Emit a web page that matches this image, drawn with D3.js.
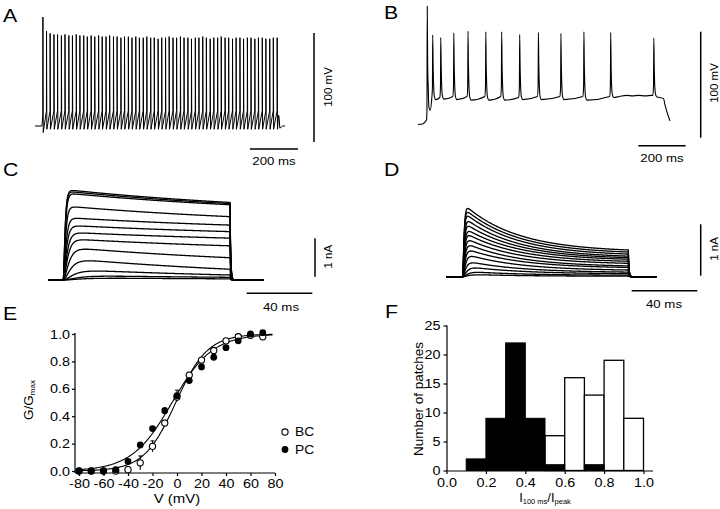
<!DOCTYPE html>
<html><head><meta charset="utf-8">
<script src="https://cdn.jsdelivr.net/npm/d3@7"></script>
<style>
body{margin:0;background:#fff}
svg{display:block}
text,tspan{font-family:"Liberation Sans",Arial,Helvetica,sans-serif;fill:#000}
</style>
</head><body>
<svg id="c" width="720" height="509"></svg>
<script>
// ---------------- DATA ----------------
// Panel A: fast-spiking cell, spike times (ms from trace start) and peak voltages (mV)
const aRest = -70;
const aThreshold = -56;
const aTroughs = [-76, -73];
const aSpikeTimes = [33,48,63,79,94,110,125,141,156,172,187,203,218,234,249,265,280,296,311,327,342,358,373,389,404,420,435,451,466,482,497,513,528,544,559,575,590,606,621,637,652,668,683,699,714,730,745,761,776,792,807,823,838,854,869,885,900,916,931,947,962,978,993,1009];
const aSpikePeaks = [30,17,15,14,14,13,14,13,13,14,13,13,12,13,12,13,12,12,13,12,12,11,12,12,11,12,11,11,12,11,11,10,11,11,12,11,11,12,11,11,10,11,11,12,11,10,11,11,12,11,11,10,11,11,10,11,11,10,11,11,10,10,11,11];

// Panel B: regular-spiking cell
const bSpikeTimes = [39,62,96,151,211,286,353,429,508,603,700,813,995];
const bSpikePeaks = [41,14,11.5,16,17.5,17,17,14.5,16.5,15.5,17,16.5,11];
const bPreSpike  = [-66,-46,-45,-44,-44,-44,-44,-45,-44,-44,-44,-44,-43];
const bTroughs   = [-57,-47,-46.5,-47,-47.5,-47.5,-47.5,-47,-47,-47,-47.5,-45,-44.5];

// Panel C: sustained K+ currents (nA) — peak and value at 100 ms, rise time constant (ms)
const cPeaks = [2.36,2.32,2.27,1.93,1.63,1.43,1.25,1.08,0.86,0.57,0.28,0.12,0.06];
const cEnds  = [2.02,1.99,1.96,1.65,1.43,1.26,1.09,0.89,0.58,0.28,0.13,0.07,0.03];
const cRiseTau = [0.8,0.8,0.9,1.0,1.2,1.4,1.7,2.0,2.6,3.5,5,7,9];

// Panel D: inactivating K+ currents (nA)
const dPeaks = [1.43,1.35,1.27,1.17,1.07,0.97,0.88,0.78,0.68,0.57,0.46,0.32,0.21,0.11,0.05];
const dEnds  = [0.52,0.48,0.44,0.40,0.37,0.34,0.30,0.26,0.21,0.18,0.13,0.09,0.06,0.03,0.01];
const dRiseTau = [0.6,0.6,0.6,0.7,0.7,0.8,0.8,0.9,1.0,1.1,1.3,1.5,2,2.5,3];

// Panel E: activation curves
const eVolt = [-80,-70,-60,-50,-40,-30,-20,-10,0,10,20,30,40,50,60,70];
const eBC    = [0.0,0.0,0.0,0.0,0.01,0.06,0.18,0.35,0.54,0.70,0.81,0.88,0.95,0.98,0.99,0.98];
const eBCerr = [0,0,0,0,0.01,0.05,0.04,0.02,0.02,0.02,0.01,0.01,0.01,0.01,0.01,0.01];
const ePC    = [0.0,0.0,0.0,0.01,0.07,0.19,0.31,0.44,0.55,0.66,0.76,0.83,0.90,0.95,1.0,1.01];
const ePCerr = [0,0,0,0,0.01,0.01,0.01,0.02,0.04,0.02,0.02,0.02,0.01,0.01,0.01,0.01];
const eFitBC = [-1, 13];   // V1/2, slope (mV)
const eFitPC = [-4, 16.5];
const eXTicks = [-80,-60,-40,-20,0,20,40,60,80];
const eYTicks = [0,0.2,0.4,0.6,0.8,1.0];

// Panel F: histogram of I100ms/Ipeak
const fBinStarts = [0.0,0.1,0.2,0.3,0.4,0.5,0.6,0.7,0.8,0.9];
const fPC = [0,2,9,22,9,1,0,1,0,0];
const fBC = [0,0,0,0,0,6,16,13,19,9];
const fXTicks = [0,0.2,0.4,0.6,0.8,1.0];
const fYTicks = [0,5,10,15,20,25];

// ---------------- DRAW ----------------
const svg = d3.select('#c');
svg.append('rect').attr('width',720).attr('height',509).attr('fill','#fff');
const ink = '#000';
const stretchList = [];
function label(x,y,str,size,anchor,rot){
  const t = svg.append('text').attr('font-size',size).attr('text-anchor',anchor||'start').text(str);
  if(rot){ t.attr('transform',`translate(${x},${y}) rotate(${rot})`); }
  else { t.attr('x',x).attr('y',y); stretchList.push(t); }
  return t;
}
function bar(x1,y1,x2,y2,w){
  svg.append('line').attr('x1',x1).attr('y1',y1).attr('x2',x2).attr('y2',y2)
    .attr('stroke',ink).attr('stroke-width',w||1.5);
}

// panel letters
label(3,21.7,'A',18.5); label(384,18.5,'B',18.5);
label(3,176,'C',18.5); label(384,176,'D',18.5);
label(3,320,'E',18.5); label(385,318,'F',18.5);

// ---- Panel A ----
const xA = d3.scaleLinear().domain([0,1000]).range([35,275]);
const yA = d3.scaleLinear().domain([-70,30]).range([126,17]);
const aPts = [[0,aRest],[28,aRest],[30,-68],[32.4,-60]];
aSpikeTimes.forEach((t,i)=>{
  if(i>0) aPts.push([t-0.3,aThreshold]);
  aPts.push([t,aSpikePeaks[i]]);
  aPts.push([t+1.3,aTroughs[i===0?0:1]]);
});
aPts.push([1015,-60],[1017,-62],[1020,-72],[1026,-71],[1032,-70],[1042,-70]);
svg.append('path').datum(aPts)
  .attr('d',d3.line().x(d=>xA(d[0])).y(d=>yA(d[1])))
  .attr('fill','none').attr('stroke',ink).attr('stroke-width',1);
bar(314,33,314,142); bar(250,149,298,149);
label(331.5,87,'100 mV',11.5,'middle',-90);
label(274,165,'200 ms',11.5,'middle');

// ---- Panel B ----
const xB = d3.scaleLinear().domain([0,1000]).range([418,655]);
const yB = d3.scaleLinear().domain([-70,30]).range([124,18]);
const bPts = [[0,-70.5],[20,-70],[30,-68],[36,-66]];
bSpikeTimes.forEach((t,i)=>{
  if(i>0) bPts.push([t-4,bPreSpike[i]]);
  bPts.push([t-1.2,bPreSpike[i]+10]);
  bPts.push([t,bSpikePeaks[i]]);
  bPts.push([t+1.8,-15]);
  bPts.push([t+4,-34]);
  bPts.push([t+7,bTroughs[i]+3]);
  bPts.push([t+13,bTroughs[i]]);
  if(i===11){ bPts.push([850,-44],[880,-43],[905,-43.5],[930,-43],[960,-43.5],[985,-43]); }
});
bPts.push([1020,-45],[1036,-46],[1042,-52],[1063,-67]);
svg.append('path').datum(bPts)
  .attr('d',d3.line().curve(d3.curveMonotoneX).x(d=>xB(d[0])).y(d=>yB(d[1])))
  .attr('fill','none').attr('stroke',ink).attr('stroke-width',1.1);
bar(700.7,31.7,700.7,137.7); bar(638.3,145.7,685.7,145.7);
label(718,83,'100 mV',11.5,'middle',-90);
label(662,162.3,'200 ms',11.5,'middle');

// ---- current traces helper ----
function currentTrace(peak,end,tauRise,tauInact,tStart,tEnd){
  const pts=[];
  const norm = 1-Math.exp(-100/tauInact);
  for(let t=tStart;t<=tEnd;t+=0.25){
    let v=0;
    if(t>=0 && t<=100){
      const act = Math.pow(1-Math.exp(-t/tauRise),2);
      const inact = end + (peak-end)*(Math.exp(-t/tauInact)-Math.exp(-100/tauInact))/norm;
      v = act*inact;
    } else if(t>100){
      v = end*Math.exp(-(t-100)/0.4);
    }
    pts.push([t,v]);
  }
  return pts;
}

// ---- Panel C ----
const xC = d3.scaleLinear().domain([0,100]).range([63.3,230]);
const yC = d3.scaleLinear().domain([0,1]).range([280,241.6]);
cPeaks.forEach((p,i)=>{
  svg.append('path').datum(currentTrace(p,cEnds[i],cRiseTau[i],150,-9,120))
    .attr('d',d3.line().x(d=>xC(d[0])).y(d=>yC(d[1])))
    .attr('fill','none').attr('stroke',ink).attr('stroke-width',1.3);
});
bar(315,238.3,315,276.7); bar(246.7,293.3,312.3,293.3);
label(331.5,256.7,'1 nA',11.5,'middle',-90);
label(281,310.5,'40 ms',11.5,'middle');

// ---- Panel D ----
const xD = d3.scaleLinear().domain([0,100]).range([462.7,628.3]);
const yD = d3.scaleLinear().domain([0,1]).range([276.7,225.3]);
dPeaks.forEach((p,i)=>{
  svg.append('path').datum(currentTrace(p,dEnds[i],dRiseTau[i],32,-10,117))
    .attr('d',d3.line().x(d=>xD(d[0])).y(d=>yD(d[1])))
    .attr('fill','none').attr('stroke',ink).attr('stroke-width',1.3);
});
bar(700.7,224.3,700.7,275.7); bar(631.7,290.7,697.3,290.7);
label(718,249,'1 nA',11.5,'middle',-90);
label(664,308.3,'40 ms',11.5,'middle');

// ---- Panel E ----
const xE = d3.scaleLinear().domain([-80,80]).range([79,275]);
const yE = d3.scaleLinear().domain([0,1]).range([471,334]);
const gE = svg.append('g');
const axEY = gE.append('g').attr('transform','translate(75,0)')
  .call(d3.axisLeft(yE).tickValues(eYTicks).tickFormat(d=>d.toFixed(1)).tickSize(3).tickPadding(2).tickSizeOuter(0));
const axEX = gE.append('g').attr('transform','translate(0,473)')
  .call(d3.axisBottom(xE).tickValues(eXTicks).tickFormat(d=>String(d)).tickSize(3).tickPadding(3.5).tickSizeOuter(0));
axEY.select('.domain').attr('d','M0,333V473');
axEX.select('.domain').attr('d','M75,0H275');
[axEX,axEY].forEach(a=>{ a.selectAll('text').attr('font-size',12.5);
  a.selectAll('line,path').attr('stroke',ink).attr('stroke-width',1.2);
  a.attr('font-family',null);
  a.selectAll('text').each(function(){stretchList.push(d3.select(this));}); });
function boltz(p){ const pts=[]; for(let v=-80; v<=78; v+=1) pts.push([v,1/(1+Math.exp((p[0]-v)/p[1]))]); return pts; }
[eFitBC,eFitPC].forEach(p=>{
  gE.append('path').datum(boltz(p)).attr('d',d3.line().x(d=>xE(d[0])).y(d=>yE(d[1])))
    .attr('fill','none').attr('stroke',ink).attr('stroke-width',1.1);
});
function errBars(vals,errs){
  vals.forEach((v,i)=>{ if(errs[i]>0.015){
    gE.append('line').attr('x1',xE(eVolt[i])).attr('x2',xE(eVolt[i]))
      .attr('y1',yE(v-errs[i])).attr('y2',yE(v+errs[i])).attr('stroke',ink).attr('stroke-width',1.1);
    gE.append('line').attr('x1',xE(eVolt[i])-2).attr('x2',xE(eVolt[i])+2)
      .attr('y1',yE(v+errs[i])).attr('y2',yE(v+errs[i])).attr('stroke',ink).attr('stroke-width',1);
  }});
}
errBars(eBC,eBCerr); errBars(ePC,ePCerr);
gE.selectAll('.bc').data(eBC).join('circle').attr('cx',(d,i)=>xE(eVolt[i])).attr('cy',d=>yE(d))
  .attr('r',3.1).attr('fill','#fff').attr('stroke',ink).attr('stroke-width',1.1);
gE.selectAll('.pc').data(ePC).join('circle').attr('cx',(d,i)=>xE(eVolt[i])).attr('cy',d=>yE(d))
  .attr('r',3.4).attr('fill',ink);
// legend
gE.append('circle').attr('cx',285).attr('cy',432).attr('r',3.1).attr('fill','#fff').attr('stroke',ink).attr('stroke-width',1.1);
gE.append('circle').attr('cx',285).attr('cy',449.5).attr('r',3.4).attr('fill',ink);
label(295,436.3,'BC',12); label(295,454,'PC',12);
// axis titles
label(177,503,'V (mV)',13,'middle');
const gy = svg.append('text').attr('transform','translate(33,400) rotate(-90)').attr('text-anchor','middle').attr('font-size',13.5);
gy.append('tspan').attr('fill','#000').text('G/G');
gy.append('tspan').attr('fill','#000').attr('font-size',8).attr('dy',2).text('max');

// ---- Panel F ----
const xF = d3.scaleLinear().domain([0,1]).range([446.5,643.5]);
const yF = d3.scaleLinear().domain([0,25]).range([470.5,325.5]);
const gF = svg.append('g');
gF.selectAll('.bcbar').data(fBC).join('rect')
  .attr('x',(d,i)=>xF(fBinStarts[i])).attr('width',(d,i)=>xF(fBinStarts[i]+0.1)-xF(fBinStarts[i]))
  .attr('y',d=>yF(d)).attr('height',d=>yF(0)-yF(d))
  .attr('fill','#fff').attr('stroke',ink).attr('stroke-width',1.3)
  .style('display',d=>d>0?null:'none');
gF.selectAll('.pcbar').data(fPC).join('rect')
  .attr('x',(d,i)=>xF(fBinStarts[i])).attr('width',(d,i)=>xF(fBinStarts[i]+0.1)-xF(fBinStarts[i]))
  .attr('y',d=>yF(d)).attr('height',d=>yF(0)-yF(d))
  .attr('fill',ink).attr('stroke',ink).attr('stroke-width',1)
  .style('display',d=>d>0?null:'none');
const axFY = gF.append('g').attr('transform','translate(447,0)')
  .call(d3.axisLeft(yF).tickValues(fYTicks).tickFormat(d=>String(d)).tickSize(3.5).tickPadding(3).tickSizeOuter(0));
const axFX = gF.append('g').attr('transform','translate(0,471)')
  .call(d3.axisBottom(xF).tickValues(fXTicks).tickFormat(d=>d.toFixed(1)).tickSize(3).tickPadding(4.5).tickSizeOuter(0));
axFY.select('.domain').attr('d','M0,325.5V471');
axFX.select('.domain').attr('d','M447,0H653');
[axFX,axFY].forEach(a=>{ a.selectAll('text').attr('font-size',12.5);
  a.attr('font-family',null);
  a.selectAll('line,path').attr('stroke',ink).attr('stroke-width',1.2);
  a.selectAll('text').each(function(){stretchList.push(d3.select(this));}); });
svg.append('text').attr('transform','translate(423,399) rotate(-90)').attr('text-anchor','middle')
  .attr('font-size',13.5).text('Number of patches');
const fx = svg.append('text').attr('x',545).attr('y',502).attr('text-anchor','middle').attr('font-size',13);
fx.append('tspan').attr('fill','#000').text('I');
fx.append('tspan').attr('fill','#000').attr('font-size',7.5).attr('dy',2).text('100 ms');
fx.append('tspan').attr('fill','#000').attr('dy',-2).text('/I');
fx.append('tspan').attr('fill','#000').attr('font-size',7.5).attr('dy',2).text('peak');

// horizontal stretch of labels to mimic the reference's wide type
stretchList.forEach(t=>{
  const n=t.node(); const w=n.getComputedTextLength();
  if(w>0){ n.setAttribute('textLength',(w*1.15).toFixed(1)); n.setAttribute('lengthAdjust','spacingAndGlyphs'); }
});
</script>
</body></html>
